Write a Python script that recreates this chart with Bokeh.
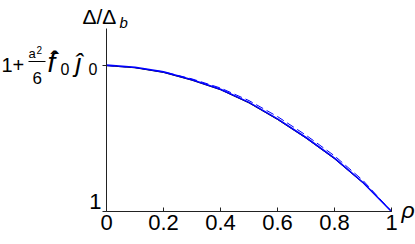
from bokeh.plotting import figure
from bokeh.models import Label, Range1d, FixedTicker, BoxAnnotation
from bokeh.embed import file_html
from bokeh.resources import INLINE

rho = [0.0, 0.1, 0.2, 0.3, 0.4, 0.5, 0.6, 0.7, 0.8, 0.9, 1.0]
solid_blue = [1.0, 0.985, 0.953, 0.900, 0.835, 0.745, 0.632, 0.505, 0.364, 0.198, 0.0]
dashed_blue = [0.995, 0.982, 0.953, 0.905, 0.843, 0.757, 0.648, 0.521, 0.380, 0.212, 0.0]
black_line = [0.996, 0.981, 0.949, 0.896, 0.831, 0.741, 0.628, 0.501, 0.360, 0.195, 0.0]
x_ticks = [0, 0.2, 0.4, 0.6, 0.8, 1]
x_tick_labels = {0: "0", 0.2: "0.2", 0.4: "0.4", 0.6: "0.6", 0.8: "0.8", 1: "1"}
y_ticks = [0, 1]

FONT = "Liberation Sans"

W, H = 415, 240
AX_L, AX_R, AX_B, Y1 = 106, 391, 211, 64.5   # page pixels of x=0, x=1, y=0, y=1
SX = AX_R - AX_L
SY = AX_B - Y1


def dx(px):
    return (px - AX_L) / SX


def dy(py):
    return (AX_B - py) / SY


p = figure(width=W, height=H, output_backend="svg", toolbar_location=None,
           min_border_left=0, min_border_right=0, min_border_top=0,
           min_border_bottom=0,
           x_range=Range1d(dx(0), dx(W)), y_range=Range1d(dy(H), dy(0)))
p.outline_line_color = None
p.grid.visible = False
p.background_fill_color = "white"
p.border_fill_color = "white"

p.line(rho, black_line, line_color="black", line_width=1)
p.line(rho, solid_blue, line_color="#0000ff", line_width=1.6)
p.line(rho, dashed_blue, line_color="#0000ff", line_width=1, line_dash="8 4")

xa = p.xaxis[0]
xa.fixed_location = 0
xa.ticker = FixedTicker(ticks=x_ticks)
xa.bounds = (0, 1)
xa.major_label_overrides = x_tick_labels
xa.major_label_text_font = FONT
xa.major_label_text_font_size = "22px"
xa.major_label_text_color = "black"
xa.major_tick_in = 4
xa.major_tick_out = 0
xa.minor_tick_line_color = None
xa.axis_line_color = "#222222"
xa.major_tick_line_color = "#222222"
xa.major_label_standoff = 3

ya = p.yaxis[0]
ya.fixed_location = 0
ya.bounds = (0, dy(28))
ya.ticker = FixedTicker(ticks=y_ticks)
ya.major_label_text_font_size = "0px"
ya.major_label_text_color = None
ya.major_tick_in = 0
ya.major_tick_out = 4
ya.minor_tick_line_color = None
ya.axis_line_color = "#222222"
ya.major_tick_line_color = "#222222"


def lab(px, py, t, size=22, style="normal", align="left"):
    # px, py: page position of the text's baseline
    p.add_layout(Label(x=dx(px), y=dy(py - 0.3 * size), text=t,
                       text_font=FONT, text_font_size=f"{size}px", text_font_style=style,
                       text_align=align, text_baseline="alphabetic", text_color="black"))


# y tick labels
lab(101, 208, "1", align="right")
lab(1, 70, "1+", size=20)
lab(28, 57, "a", size=13)
lab(36, 52, "2", size=10)
lab(32, 83, "6", size=17)
lab(47, 70, "f", size=28, style="italic")
lab(50, 67, "ˆ", size=26)
lab(60, 73, "0", size=16)
lab(75, 70, "ĵ", size=26, style="italic")
lab(88, 73, "0", size=16)

# axis titles
lab(82, 22, "Δ/Δ", size=21)
lab(119, 26, "b", size=15, style="italic")
lab(401, 216, "ρ", size=23, style="italic")

# fraction bar
p.add_layout(BoxAnnotation(left=dx(28), right=dx(45), bottom=dy(61.5), top=dy(60.5),
                           fill_color="black", fill_alpha=1, line_color=None))

open("out.html", "w").write(file_html(p, INLINE))
